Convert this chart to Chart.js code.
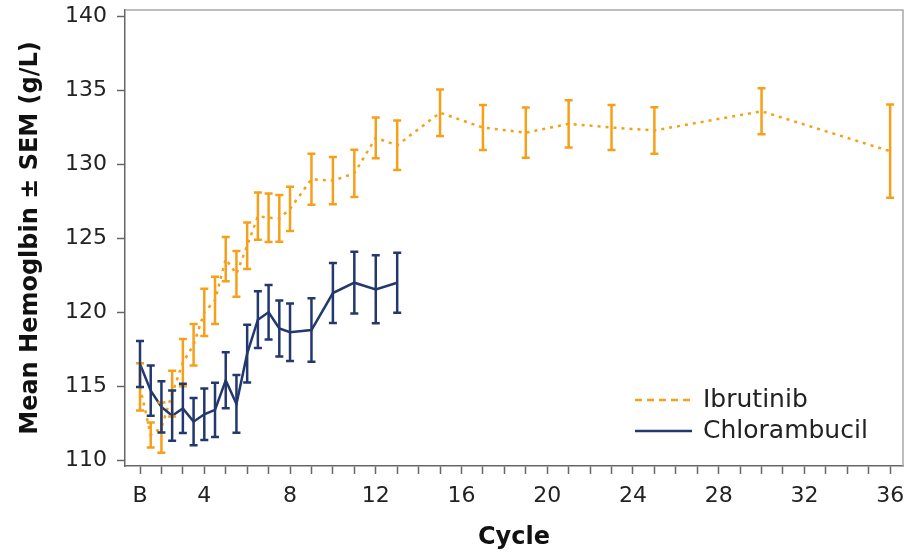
<!DOCTYPE html>
<html>
<head>
<meta charset="utf-8">
<script src="https://cdn.jsdelivr.net/npm/chart.js@4.4.1/dist/chart.umd.min.js"></script>
<style>
  html, body { margin: 0; padding: 0; background: #fff; }
  #wrap { width: 905px; height: 552px; }
</style>
</head>
<body>
<div id="wrap"><canvas id="hbChart" width="905" height="552"></canvas></div>
<script>
// cycle positions, baseline "B" sits at 1
const ibrCycles = [1, 1.5, 2, 2.5, 3, 3.5, 4, 4.5, 5, 5.5, 6, 6.5, 7, 7.5, 8, 9, 10, 11, 12, 13, 15, 17, 19, 21, 23, 25, 30, 36];
const ibrMean   = [114.95, 111.7, 112.2, 114.5, 116.6, 117.8, 120.0, 120.8, 123.6, 122.6, 124.5, 126.5, 126.4, 126.35, 127.0, 129.0, 128.9, 129.4, 131.8, 131.3, 133.5, 132.5, 132.15, 132.75, 132.5, 132.3, 133.6, 130.9];
const ibrSem    = [1.6, 0.85, 1.7, 1.55, 1.6, 1.4, 1.6, 1.6, 1.5, 1.55, 1.58, 1.6, 1.64, 1.58, 1.5, 1.73, 1.6, 1.6, 1.38, 1.67, 1.58, 1.52, 1.7, 1.6, 1.52, 1.57, 1.56, 3.16];

const chlCycles = [1, 1.5, 2, 2.5, 3, 3.5, 4, 4.5, 5, 5.5, 6, 6.5, 7, 7.5, 8, 9, 10, 11, 12, 13];
const chlMean   = [116.5, 114.7, 113.6, 113.0, 113.5, 112.6, 113.1, 113.4, 115.4, 113.8, 117.2, 119.5, 120.0, 118.9, 118.65, 118.8, 121.3, 122.0, 121.55, 122.0];
const chlSem    = [1.55, 1.7, 1.74, 1.7, 1.66, 1.6, 1.74, 1.84, 1.9, 1.95, 1.95, 1.92, 1.85, 1.9, 1.95, 2.15, 2.03, 2.09, 2.3, 2.03];

const xLabelPos   = [1, 4, 8, 12, 16, 20, 24, 28, 32, 36];
const xLabelTexts = ['B', '4', '8', '12', '16', '20', '24', '28', '32', '36'];
const yTicks = [110, 115, 120, 125, 130, 135, 140];

const ORANGE = '#f6a01a';
const NAVY = '#22386e';
const AXIS = '#666666';
const FONT = "'DejaVu Sans', sans-serif";

function toPoints(xs, ys) {
    return xs.map((x, i) => ({ x: x, y: ys[i] }));
}

// mean ± SEM whiskers, drawn through the chart scales
const errorBars = {
    id: 'errorBars',
    afterDatasetsDraw(chart) {
        const ctx = chart.ctx;
        const xs = chart.scales.x, ys = chart.scales.y;
        chart.data.datasets.forEach((ds, di) => {
            if (!chart.isDatasetVisible(di)) return;
            ctx.save();
            ctx.strokeStyle = ds.borderColor;
            ctx.lineWidth = 2.5;
            ds.data.forEach((p, i) => {
                const e = ds.errors[i];
                const x = xs.getPixelForValue(p.x);
                const yHi = ys.getPixelForValue(p.y + e);
                const yLo = ys.getPixelForValue(p.y - e);
                ctx.beginPath();
                ctx.moveTo(x, yHi); ctx.lineTo(x, yLo);
                ctx.moveTo(x - 4, yHi); ctx.lineTo(x + 4, yHi);
                ctx.moveTo(x - 4, yLo); ctx.lineTo(x + 4, yLo);
                ctx.stroke();
            });
            ctx.restore();
        });
    }
};

// light top/right frame
const frame = {
    id: 'frame',
    beforeDatasetsDraw(chart) {
        const { ctx, chartArea: a } = chart;
        ctx.save();
        ctx.strokeStyle = '#a8a8a8';
        ctx.lineWidth = 1.5;
        ctx.beginPath();
        ctx.moveTo(a.left, a.top);
        ctx.lineTo(a.right, a.top);
        ctx.lineTo(a.right, a.bottom);
        ctx.stroke();
        ctx.restore();
    }
};

// legend inside the plot, bottom right
const insideLegend = {
    id: 'insideLegend',
    afterDraw(chart) {
        const { ctx, chartArea: a } = chart;
        let y = a.bottom - 66;
        chart.data.datasets.forEach(ds => {
            ctx.save();
            ctx.strokeStyle = ds.borderColor;
            ctx.lineWidth = 2.5;
            ctx.setLineDash(ds.legendDash);
            ctx.beginPath();
            ctx.moveTo(a.right - 268, y);
            ctx.lineTo(a.right - 211, y);
            ctx.stroke();
            ctx.setLineDash([]);
            ctx.fillStyle = '#222';
            ctx.font = '25px ' + FONT;
            ctx.textBaseline = 'middle';
            ctx.fillText(ds.label, a.right - 200, y);
            ctx.restore();
            y += 31;
        });
    }
};

const ctx = document.getElementById('hbChart').getContext('2d');
new Chart(ctx, {
    type: 'line',
    data: {
        datasets: [
            {
                label: 'Ibrutinib',
                data: toPoints(ibrCycles, ibrMean),
                errors: ibrSem,
                borderColor: ORANGE,
                borderWidth: 2.5,
                borderDash: [3, 5],
                legendDash: [7, 5],
                pointRadius: 0,
                fill: false,
                order: 1
            },
            {
                label: 'Chlorambucil',
                data: toPoints(chlCycles, chlMean),
                errors: chlSem,
                borderColor: NAVY,
                borderWidth: 2.5,
                legendDash: [],
                pointRadius: 0,
                fill: false,
                order: 0
            }
        ]
    },
    options: {
        responsive: false,
        animation: false,
        layout: { padding: { top: 10, right: 2, left: 0, bottom: 0 } },
        plugins: {
            legend: { display: false },
            tooltip: { enabled: false }
        },
        scales: {
            x: {
                type: 'linear',
                min: 0.3,
                max: 36.6,
                afterFit: s => { s.height = 86; s.paddingLeft = 0; s.paddingRight = 0; },
                afterBuildTicks: s => {
                    const t = [];
                    for (let v = 1; v <= 36; v++) t.push({ value: v });
                    s.ticks = t;
                },
                border: { display: true, color: AXIS, width: 1.5 },
                grid: { display: true, drawOnChartArea: false, drawTicks: true, tickLength: 8, tickColor: AXIS, tickWidth: 1.5 },
                ticks: {
                    autoSkip: false,
                    maxRotation: 0,
                    padding: 9,
                    color: '#222',
                    font: { family: FONT, size: 22 },
                    callback: v => {
                        const i = xLabelPos.indexOf(v);
                        return i >= 0 ? xLabelTexts[i] : '';
                    }
                },
                title: {
                    display: true,
                    text: 'Cycle',
                    color: '#111',
                    font: { family: FONT, size: 24, weight: 'bold' },
                    padding: { top: 0, bottom: 0 }
                }
            },
            y: {
                min: 109.6,
                max: 140.45,
                afterFit: s => { s.width = 125; s.paddingTop = 0; s.paddingBottom = 0; },
                afterBuildTicks: s => { s.ticks = yTicks.map(v => ({ value: v })); },
                border: { display: true, color: AXIS, width: 1.5 },
                grid: { display: true, drawOnChartArea: false, drawTicks: true, tickLength: 8, tickColor: AXIS, tickWidth: 1.5 },
                ticks: {
                    padding: 10,
                    color: '#222',
                    font: { family: FONT, size: 22 }
                },
                title: {
                    display: true,
                    text: 'Mean Hemoglbin ± SEM (g/L)',
                    color: '#111',
                    font: { family: FONT, size: 24, weight: 'bold' },
                    padding: { top: 16, bottom: 0 }
                }
            }
        }
    },
    plugins: [frame, errorBars, insideLegend]
});
</script>
</body>
</html>
